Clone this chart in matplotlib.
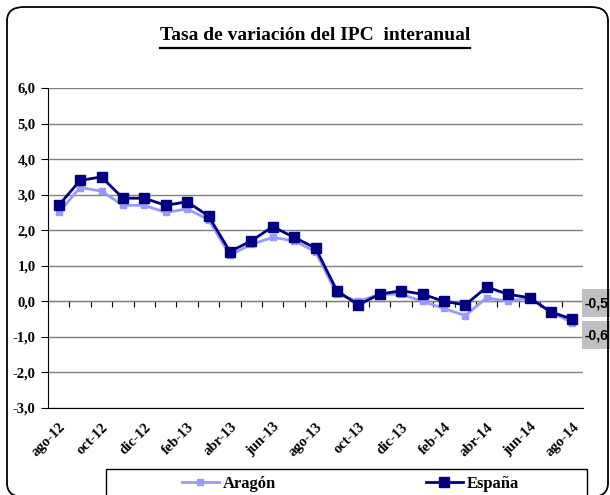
import numpy as np
import matplotlib
matplotlib.use("Agg")
import matplotlib.pyplot as plt
from matplotlib.patches import FancyBboxPatch, Rectangle
from matplotlib.lines import Line2D
from matplotlib.ticker import FuncFormatter

# ---------------------------------------------------------------------------
# Data (IPC interanual, ago-12 .. ago-14)
# ---------------------------------------------------------------------------
months = ["ago-12", "sep-12", "oct-12", "nov-12", "dic-12",
          "ene-13", "feb-13", "mar-13", "abr-13", "may-13", "jun-13", "jul-13",
          "ago-13", "sep-13", "oct-13", "nov-13", "dic-13",
          "ene-14", "feb-14", "mar-14", "abr-14", "may-14", "jun-14", "jul-14",
          "ago-14"]
aragon = [2.5, 3.2, 3.1, 2.7, 2.7, 2.5, 2.6, 2.3, 1.3, 1.6, 1.8, 1.7, 1.4,
          0.2, 0.0, 0.2, 0.2, 0.0, -0.2, -0.4, 0.1, 0.0, 0.1, -0.3, -0.6]
espana = [2.7, 3.4, 3.5, 2.9, 2.9, 2.7, 2.8, 2.4, 1.4, 1.7, 2.1, 1.8, 1.5,
          0.3, -0.1, 0.2, 0.3, 0.2, 0.0, -0.1, 0.4, 0.2, 0.1, -0.3, -0.5]
y_ticks = [-3, -2, -1, 0, 1, 2, 3, 4, 5, 6]

TITLE = "Tasa de variación del IPC  interanual"
C_ARAGON = "#9999FF"
C_ESPANA = "#000080"
SERIF = "Liberation Serif"

W, H = 610, 495


def fx(x):
    return x / W


def fy(y):
    return 1 - y / H


fig = plt.figure(figsize=(W / 100, H / 100), dpi=100)

# outer rounded chart-area border
fig.patches.append(FancyBboxPatch(
    (fx(7), fy(497)), fx(601), 490 / H,
    boxstyle="round,pad=0,rounding_size=0.028",
    transform=fig.transFigure, fill=False, edgecolor="black", lw=1.3))

ax = fig.add_axes([fx(48), fy(408), fx(535), 320 / H])
x = np.arange(len(months))

ax.plot(x, aragon, color=C_ARAGON, lw=2.0, marker="s", ms=5,
        label="Aragón", zorder=3)
ax.plot(x, espana, color=C_ESPANA, lw=2.0, marker="s", ms=6.5,
        label="España", zorder=4)

ax.set_xlim(-0.5, len(months) - 0.5)
ax.set_ylim(-3, 6)
ax.set_yticks(y_ticks)
ax.yaxis.set_major_formatter(FuncFormatter(lambda v, p: f"{v:.1f}".replace(".", ",")))
ax.yaxis.grid(True, color="#808080", lw=1)
ax.set_axisbelow(True)

for s in ("top", "right"):
    ax.spines[s].set_visible(False)
ax.spines["left"].set_color("black")
ax.spines["bottom"].set_color("black")

ax.set_xticks(x[::2])
ax.set_xticklabels(months[::2], rotation=45, ha="right", rotation_mode="anchor",
                   fontfamily=SERIF, fontweight="bold", fontsize=10.5)
ax.tick_params(axis="x", length=0, pad=9)
ax.tick_params(axis="y", direction="out", length=5, labelsize=10.5, pad=4)
for lab in ax.get_yticklabels():
    lab.set_fontfamily(SERIF)
    lab.set_fontweight("bold")

# category axis crossing at zero, ticks between categories
secax = ax.secondary_xaxis(3 / 9)
secax.set_xticks(np.arange(-0.5, len(months), 1))
secax.set_xticklabels([])
secax.tick_params(axis="x", direction="out", length=4, color="black")
secax.spines["bottom"].set_color("black")

# data labels for the last month (grey boxes, taller than wide padding)
lab_style = dict(textcoords="offset points", ha="left", va="center",
                 fontfamily="Liberation Sans", fontweight="bold", fontsize=10,
                 bbox=dict(boxstyle="square,pad=0.2", fc="#C0C0C0", ec="none",
                           mutation_aspect=2.4),
                 annotation_clip=False)
ax.annotate(f"{espana[-1]:.1f}".replace(".", ","), (x[-1], espana[-1]),
            xytext=(9, 11.5), **lab_style)
ax.annotate(f"{aragon[-1]:.1f}".replace(".", ","), (x[-1], aragon[-1]),
            xytext=(9, -9), **lab_style)

# title with underline
t = fig.text(fx(315), fy(35), TITLE, ha="center", va="center",
             fontfamily=SERIF, fontweight="bold", fontsize=14)
fig.canvas.draw()
bb = t.get_window_extent().transformed(fig.transFigure.inverted())
fig.add_artist(Line2D([bb.x0, bb.x1], [fy(48), fy(48)], color="black", lw=1.6,
                      transform=fig.transFigure))

# legend box
fig.patches.append(Rectangle((fx(106), fy(500)), fx(481), 31 / H,
                             transform=fig.transFigure, fill=False,
                             edgecolor="black", lw=1))
handles, labels = ax.get_legend_handles_labels()
fig.legend(handles, labels, loc="center left", bbox_to_anchor=(fx(182), fy(484)),
           ncol=2, frameon=False, handlelength=2.2, handletextpad=0.25,
           columnspacing=9.0, borderaxespad=0, borderpad=0,
           prop=dict(family=SERIF, weight="bold", size=12))

fig.savefig("out.png", dpi=100)
